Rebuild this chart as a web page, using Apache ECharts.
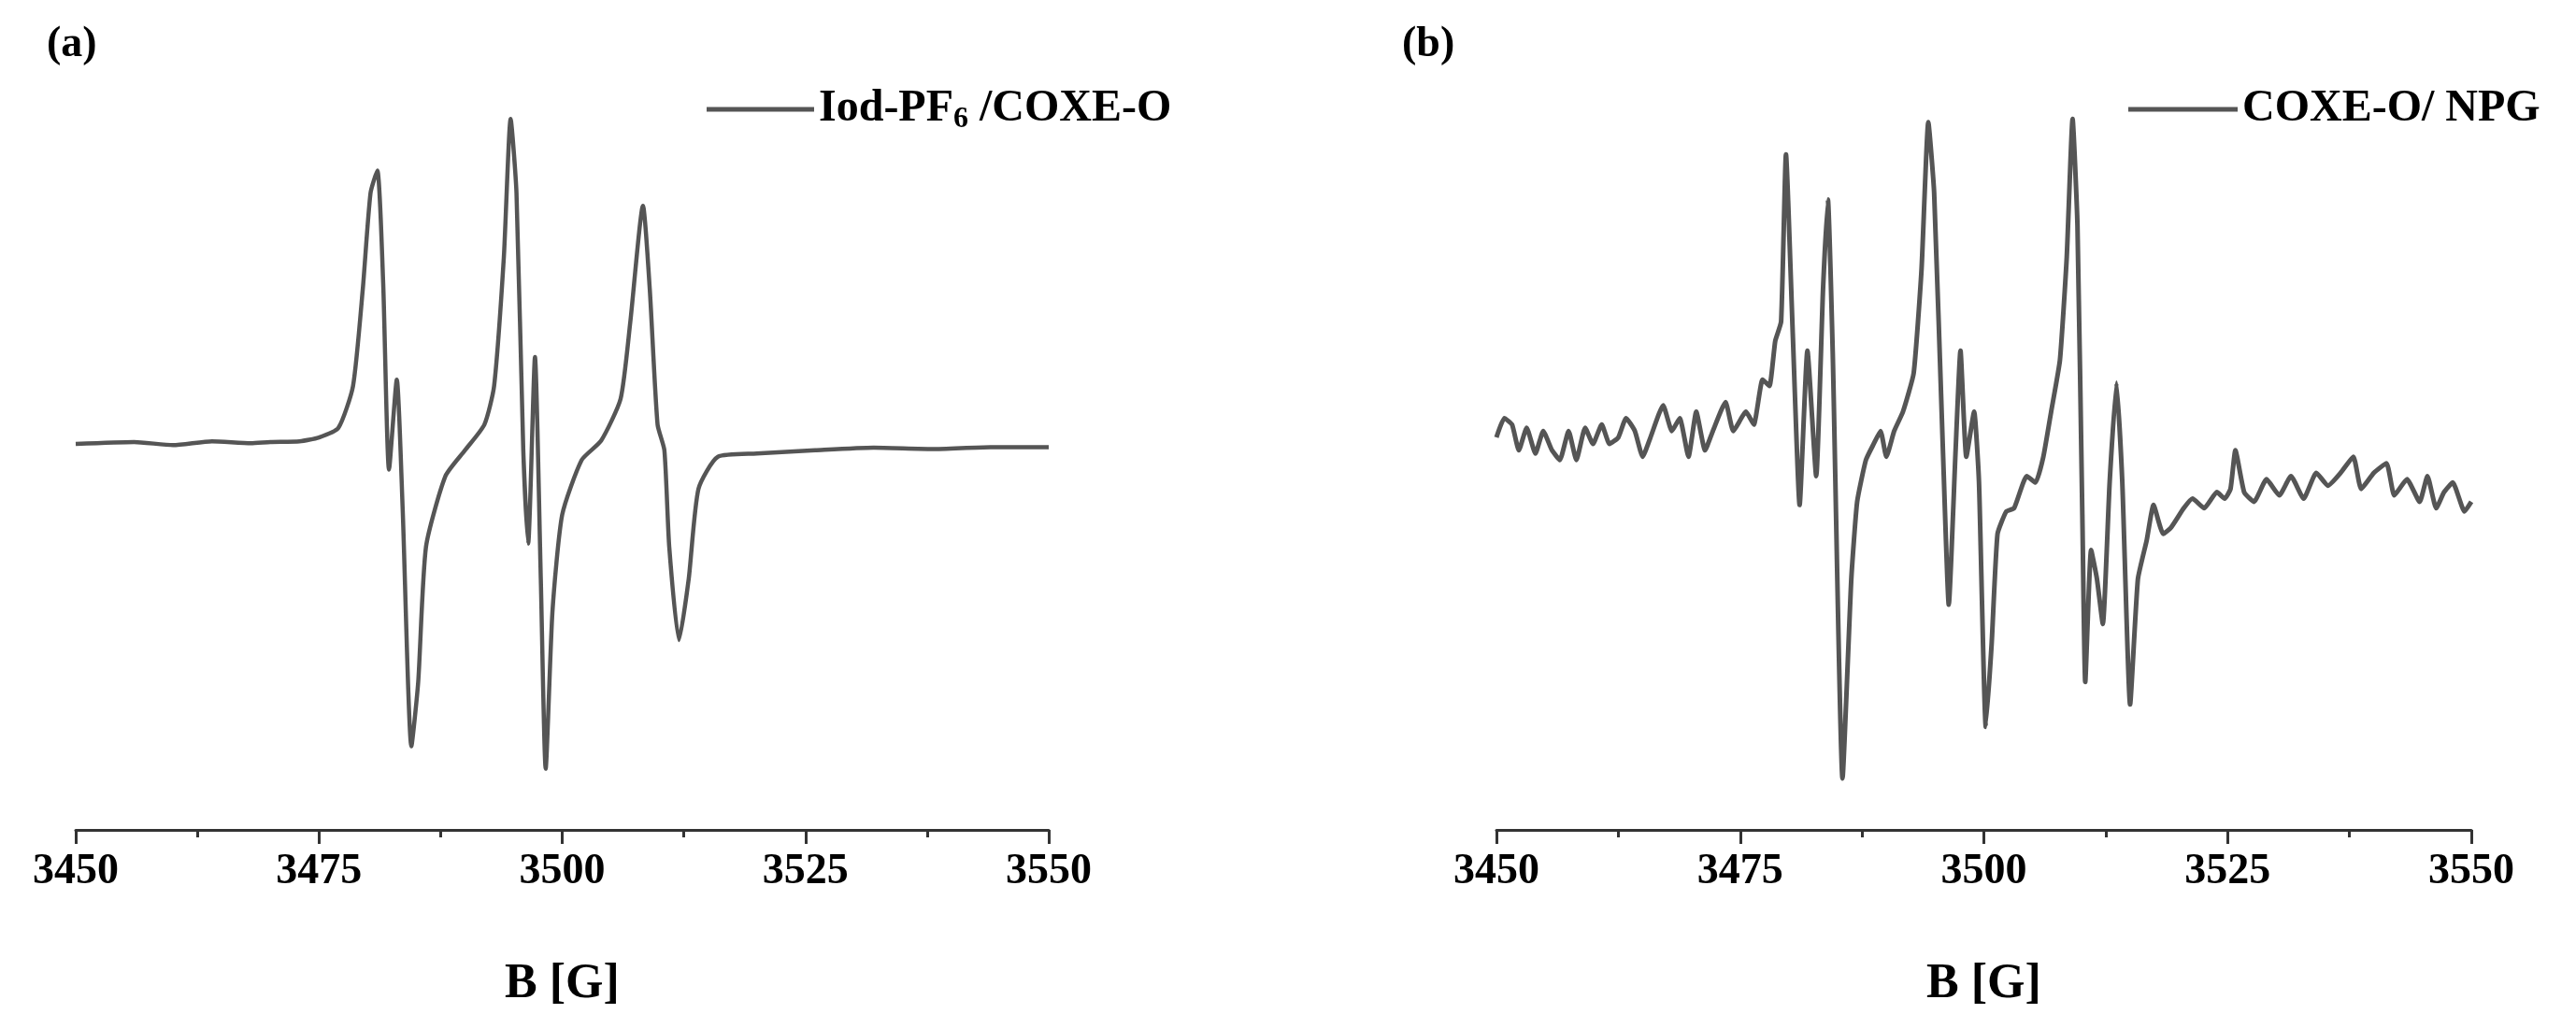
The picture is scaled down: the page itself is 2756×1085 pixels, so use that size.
<!DOCTYPE html>
<html>
<head>
<meta charset="utf-8">
<script src="https://cdn.jsdelivr.net/npm/echarts@6/dist/echarts.min.js"></script>
<style>html,body{margin:0;background:#fff}#c{width:2756px;height:1085px}</style>
</head>
<body>
<div id="c"></div>
<script>
// panel (a): Iod-PF6 / COXE-O
var aField = [3450, 3456, 3460, 3464, 3468, 3470, 3473, 3475, 3477, 3478.5, 3479.5, 3480.3, 3481, 3481.6, 3482.2, 3483, 3483.6, 3484.5, 3485.2, 3486, 3488, 3490, 3492, 3493, 3494, 3494.7, 3495.3, 3496, 3496.5, 3497.2, 3497.8, 3498.3, 3499, 3500, 3502, 3504, 3506, 3507, 3508.3, 3509, 3509.8, 3510.5, 3511, 3512, 3513, 3514, 3516, 3520, 3526, 3532, 3538, 3544, 3550];
var aInt = [0, 3, -2, 4, 1, 3, 4, 10, 25, 90, 240, 390, 425, 250, -40, 100, -100, -470, -370, -160, -50, -10, 30, 90, 290, 505, 390, -10, -155, 135, -210, -505, -260, -110, -25, 5, 70, 190, 370, 240, 30, -10, -160, -305, -210, -70, -20, -15, -10, -6, -8, -5, -5];

// panel (b): COXE-O / NPG
var bField = [3450.0, 3450.8, 3451.6, 3452.3, 3453.1, 3454.0, 3454.8, 3455.7, 3456.5, 3457.4, 3458.2, 3459.1, 3459.9, 3460.8, 3461.6, 3462.5, 3463.3, 3464.2, 3465.0, 3465.8, 3467.1, 3468.0, 3468.8, 3469.7, 3470.5, 3471.4, 3472.2, 3473.5, 3474.3, 3475.6, 3476.4, 3477.3, 3478.0, 3478.6, 3479.2, 3479.7, 3480.4, 3481.1, 3481.9, 3482.8, 3483.5, 3484.0, 3484.5, 3485.5, 3486.4, 3487.0, 3487.9, 3488.7, 3489.4, 3490.0, 3490.8, 3491.7, 3492.8, 3493.6, 3494.3, 3494.9, 3495.8, 3496.4, 3497.1, 3497.6, 3498.2, 3499.0, 3499.5, 3500.2, 3500.8, 3501.4, 3502.3, 3503.1, 3504.4, 3505.3, 3506.1, 3506.9, 3507.8, 3508.5, 3509.1, 3509.6, 3510.1, 3510.4, 3511.0, 3511.6, 3512.2, 3512.9, 3513.6, 3514.2, 3515.0, 3515.8, 3516.7, 3517.4, 3518.4, 3519.2, 3520.5, 3521.4, 3522.6, 3523.9, 3524.7, 3525.3, 3525.8, 3526.7, 3527.7, 3529.0, 3530.3, 3531.5, 3532.8, 3534.1, 3535.3, 3536.6, 3537.9, 3538.7, 3540.0, 3541.3, 3542.1, 3543.4, 3544.7, 3545.5, 3546.4, 3547.2, 3548.1, 3549.3, 3550.0];
var bInt = [20, 50, 40, 0, 35, -5, 30, 0, -15, 30, -15, 35, 10, 40, 10, 20, 50, 30, -10, 20, 70, 30, 50, -10, 60, 0, 30, 75, 30, 60, 40, 110, 100, 170, 200, 460, 180, -85, 155, -40, 250, 390, 150, -510, -200, -80, -15, 10, 30, -10, 30, 60, 120, 280, 510, 400, 0, -240, 0, 155, -10, 60, -50, -430, -300, -130, -95, -90, -40, -50, -10, 60, 140, 300, 515, 350, -100, -360, -155, -200, -270, -50, 105, -50, -395, -200, -140, -85, -130, -120, -90, -75, -90, -65, -75, -60, 0, -65, -80, -45, -70, -40, -75, -35, -55, -35, -10, -60, -35, -20, -70, -45, -80, -40, -90, -65, -50, -95, -80];

var xTicks = [3450, 3475, 3500, 3525, 3550];

function pairs(xs, ys) { return xs.map(function (x, i) { return [x, ys[i]]; }); }

var font = '"Liberation Serif", "Times New Roman", serif';
var lineColor = '#555555';

function xAxis(idx) {
  return {
    type: 'value', gridIndex: idx, min: 3450, max: 3550, interval: 25,
    axisLine: { onZero: false, lineStyle: { color: '#333', width: 3 } },
    axisTick: { inside: false, length: 15, lineStyle: { color: '#333', width: 3 } },
    minorTick: { show: true, splitNumber: 2, length: 8, lineStyle: { color: '#333', width: 3 } },
    splitLine: { show: false },
    axisLabel: { color: '#000', fontFamily: font, fontWeight: 'bold', fontSize: 46, margin: 22,
      formatter: function (v) { return xTicks.indexOf(v) >= 0 ? String(v) : ''; } },
    name: 'B [G]', nameLocation: 'middle', nameGap: 140,
    nameTextStyle: { color: '#000', fontFamily: font, fontWeight: 'bold', fontSize: 52 }
  };
}

var chart = echarts.init(document.getElementById('c'));
chart.setOption({
  animation: false,
  backgroundColor: '#fff',
  grid: [
    { left: 81, width: 1041, top: 0, height: 897 },
    { left: 1601, width: 1043, top: 0, height: 897 }
  ],
  xAxis: [xAxis(0), xAxis(1)],
  yAxis: [
    { type: 'value', gridIndex: 0, min: -600, max: 690, show: false },
    { type: 'value', gridIndex: 1, min: -590, max: 700, show: false }
  ],
  legend: [
    { data: ['a'], left: 751, top: 88, itemWidth: 115, itemHeight: 5, itemGap: 22, icon: 'rect',
      formatter: function () { return '{n|Iod-PF}{s|6}{n| /COXE-O}'; },
      textStyle: { rich: {
        n: { fontFamily: font, fontWeight: 'bold', fontSize: 48, color: '#000' },
        s: { fontFamily: font, fontWeight: 'bold', fontSize: 32, color: '#000', padding: [22, 0, 0, 0] } } } },
    { data: ['b'], left: 2272, top: 88, itemWidth: 117, itemHeight: 5, itemGap: 20, icon: 'rect',
      formatter: function () { return 'COXE-O/ NPG'; },
      textStyle: { fontFamily: font, fontWeight: 'bold', fontSize: 48, color: '#000' } }
  ],
  graphic: [
    { type: 'text', left: 50, top: 25, style: { text: '(a)', font: 'bold 46px ' + font, fill: '#000' } },
    { type: 'text', left: 1500, top: 25, style: { text: '(b)', font: 'bold 46px ' + font, fill: '#000' } }
  ],
  series: [
    { name: 'a', type: 'line', xAxisIndex: 0, yAxisIndex: 0, data: pairs(aField, aInt), smooth: 0.2,
      symbol: 'none', lineStyle: { color: lineColor, width: 4.5 }, itemStyle: { color: lineColor } },
    { name: 'b', type: 'line', xAxisIndex: 1, yAxisIndex: 1, data: pairs(bField, bInt), smooth: 0.15,
      symbol: 'none', lineStyle: { color: lineColor, width: 5 }, itemStyle: { color: lineColor } }
  ]
});
</script>
</body>
</html>
